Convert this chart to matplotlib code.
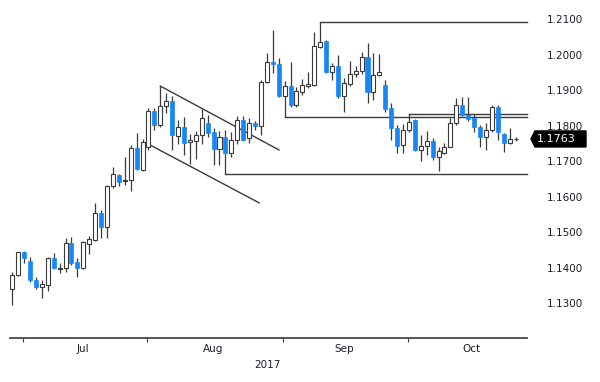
import numpy as np
import pandas as pd
import matplotlib
matplotlib.use('Agg')
import matplotlib.pyplot as plt
from matplotlib.patches import Polygon

# EUR/USD daily candles, Jun 29 - Oct 26 2017
dates = pd.bdate_range('2017-06-29', periods=86)

opens = [1.1339, 1.1380, 1.1444, 1.1420, 1.1366, 1.1347, 1.1352, 1.1427, 1.1397, 1.1399,
         1.1469, 1.1416, 1.1399, 1.1466, 1.1478, 1.1555, 1.1514, 1.1631, 1.1661, 1.1645,
         1.1647, 1.1737, 1.1675, 1.1740, 1.1843, 1.1802, 1.1857, 1.1870, 1.1770, 1.1797,
         1.1753, 1.1757, 1.1773, 1.1808, 1.1783, 1.1736, 1.1768, 1.1723, 1.1761, 1.1816,
         1.1765, 1.1807, 1.1799, 1.1924, 1.1981, 1.1973, 1.1884, 1.1912, 1.1859, 1.1896,
         1.1913, 1.1915, 1.2023, 1.2040, 1.1952, 1.1968, 1.1884, 1.1919, 1.1945, 1.1954,
         1.1995, 1.1894, 1.1942, 1.1915, 1.1849, 1.1793, 1.1746, 1.1788, 1.1816, 1.1732,
         1.1743, 1.1758, 1.1711, 1.1724, 1.1741, 1.1807, 1.1859, 1.1830, 1.1821, 1.1796,
         1.1768, 1.1788, 1.1854, 1.1777, 1.1751, 1.1762]
highs = [1.1389, 1.1445, 1.1447, 1.1430, 1.1375, 1.1366, 1.1430, 1.1441, 1.1413, 1.1483,
         1.1488, 1.1427, 1.1476, 1.1490, 1.1583, 1.1563, 1.1633, 1.1685, 1.1664, 1.1713,
         1.1746, 1.1779, 1.1762, 1.1849, 1.1849, 1.1912, 1.1892, 1.1884, 1.1816, 1.1826,
         1.1777, 1.1785, 1.1848, 1.1830, 1.1795, 1.1785, 1.1789, 1.1783, 1.1828, 1.1827,
         1.1821, 1.1814, 1.1929, 1.2006, 1.2070, 1.1991, 1.1926, 1.1981, 1.1910, 1.1931,
         1.1952, 1.2065, 1.2092, 1.2042, 1.1978, 1.1999, 1.1935, 1.1983, 1.1968, 1.2009,
         1.2032, 1.2004, 1.2002, 1.1929, 1.1863, 1.1802, 1.1804, 1.1833, 1.1818, 1.1774,
         1.1786, 1.1765, 1.1739, 1.1751, 1.1821, 1.1877, 1.1880, 1.1880, 1.1833, 1.1802,
         1.1807, 1.1859, 1.1859, 1.1779, 1.1793, 1.1768]
lows = [1.1295, 1.1378, 1.1413, 1.1361, 1.1340, 1.1316, 1.1335, 1.1397, 1.1385, 1.1387,
        1.1408, 1.1373, 1.1396, 1.1439, 1.1476, 1.1483, 1.1483, 1.1624, 1.1630, 1.1633,
        1.1617, 1.1675, 1.1672, 1.1733, 1.1788, 1.1796, 1.1835, 1.1732, 1.1749, 1.1718,
        1.1692, 1.1707, 1.1749, 1.1769, 1.1690, 1.1690, 1.1664, 1.1713, 1.1749, 1.1756,
        1.1752, 1.1788, 1.1774, 1.1921, 1.1950, 1.1880, 1.1826, 1.1854, 1.1852, 1.1887,
        1.1906, 1.1912, 1.2018, 1.1950, 1.1929, 1.1877, 1.1840, 1.1912, 1.1937, 1.1946,
        1.1863, 1.1873, 1.1939, 1.1840, 1.1760, 1.1723, 1.1723, 1.1783, 1.1729, 1.1702,
        1.1718, 1.1704, 1.1672, 1.1721, 1.1740, 1.1802, 1.1828, 1.1814, 1.1783, 1.1739,
        1.1732, 1.1783, 1.1760, 1.1727, 1.1749, 1.1757]
closes = [1.1380, 1.1444, 1.1428, 1.1366, 1.1347, 1.1354, 1.1427, 1.1400, 1.1400, 1.1469,
          1.1413, 1.1399, 1.1474, 1.1480, 1.1555, 1.1514, 1.1631, 1.1664, 1.1643, 1.1647,
          1.1737, 1.1677, 1.1755, 1.1842, 1.1802, 1.1857, 1.1871, 1.1773, 1.1797, 1.1752,
          1.1760, 1.1774, 1.1822, 1.1780, 1.1735, 1.1768, 1.1723, 1.1761, 1.1816, 1.1760,
          1.1807, 1.1799, 1.1924, 1.1981, 1.1973, 1.1884, 1.1912, 1.1859, 1.1899, 1.1915,
          1.1917, 1.2025, 1.2037, 1.1952, 1.1968, 1.1884, 1.1921, 1.1945, 1.1954, 1.1995,
          1.1894, 1.1942, 1.1952, 1.1847, 1.1793, 1.1744, 1.1788, 1.1812, 1.1732, 1.1744,
          1.1758, 1.1711, 1.1730, 1.1741, 1.1809, 1.1859, 1.1830, 1.1818, 1.1796, 1.1768,
          1.1788, 1.1854, 1.1783, 1.1751, 1.1762, 1.1763]

price_ticks = [1.13, 1.14, 1.15, 1.16, 1.17, 1.18, 1.19, 1.20, 1.21]

# trend lines: (bar index, price)
channel_top = [(25, 1.1912), (45.05, 1.1732)]
channel_bottom = [(22.7, 1.1751), (41.7, 1.1583)]
# horizontal levels: (start bar index, price)
levels = [(52, 1.2092), (46, 1.1826), (67, 1.1833), (36, 1.1664)]

blue = '#1787f7'
dark = '#3a3a3a'
txt = '#1c1c2c'
font = ['Liberation Sans Narrow', 'DejaVu Sans']

fig = plt.figure(figsize=(6, 3.82), dpi=100)
ax = fig.add_axes([9.5 / 600, 44 / 382, 517.5 / 600, 333 / 382])

x = np.arange(len(dates))
o = np.array(opens); h = np.array(highs); l = np.array(lows); c = np.array(closes)
up = c >= o

ax.vlines(x, l, h, color=dark, lw=0.9, zorder=2)
ax.bar(x[up], np.maximum(c[up] - o[up], 0.00004), bottom=o[up], width=0.68,
       color='white', edgecolor=dark, linewidth=0.8, zorder=3)
ax.bar(x[~up], o[~up] - c[~up], bottom=c[~up], width=0.68,
       color=blue, edgecolor=blue, linewidth=0.5, zorder=3)

xmax = 86.94
for pts in (channel_top, channel_bottom):
    ax.plot([p[0] for p in pts], [p[1] for p in pts], color=dark, lw=1, zorder=1)
for i0, lv in levels:
    ax.plot([i0, xmax], [lv, lv], color=dark, lw=1, zorder=1, clip_on=False)

ax.set_xlim(-0.47, xmax)
ax.set_ylim(1.12023, 1.21403)

for s in ('top', 'left', 'right'):
    ax.spines[s].set_visible(False)
ax.spines['bottom'].set_color(dark)
ax.spines['bottom'].set_linewidth(1.2)

# month ticks at first bar of each month, labels centred in month
months = dates.to_period('M')
starts = [i for i in range(len(dates)) if i == 0 or months[i] != months[i - 1]][1:]
centers, names = [], []
for k, s0 in enumerate(starts):
    m = months[s0]
    n_days = len(pd.bdate_range(m.start_time, m.end_time))
    centers.append(s0 + n_days / 2 - 0.5)
    names.append(m.strftime('%b'))
ax.set_xticks([s0 - 0.2 for s0 in starts])
ax.set_xticklabels([])
ax.set_xticks(centers, minor=True)
ax.set_xticklabels(names, minor=True, fontsize=7.5, family=font, color=txt)
ax.tick_params(axis='x', which='major', direction='out', length=3, color=dark)
ax.tick_params(axis='x', which='minor', length=0, pad=4)
fig.text(267 / 600, 1 - 365 / 382, '2017', ha='center', va='center',
         fontsize=7.5, family=font, color=txt)

ax.yaxis.tick_right()
ax.set_yticks(price_ticks)
ax.set_yticklabels(['%.4f' % p for p in price_ticks], fontsize=7.5, family=font, color=txt)
ax.tick_params(axis='y', length=0, pad=14)

# last price tag
yc = fig.transFigure.inverted().transform(ax.transData.transform((0, closes[-1])))[1]
hh = 8 / 382
tag = Polygon([(531 / 600, yc), (535 / 600, yc + hh), (586 / 600, yc + hh),
               (586 / 600, yc - hh), (535 / 600, yc - hh)], closed=True,
              transform=fig.transFigure, facecolor='black', edgecolor='black', zorder=10)
fig.patches.append(tag)
fig.text(537 / 600, yc, '%.4f' % closes[-1], ha='left', va='center', color='white',
         fontsize=8, family=font, zorder=11)

fig.savefig('out.png', dpi=100)
